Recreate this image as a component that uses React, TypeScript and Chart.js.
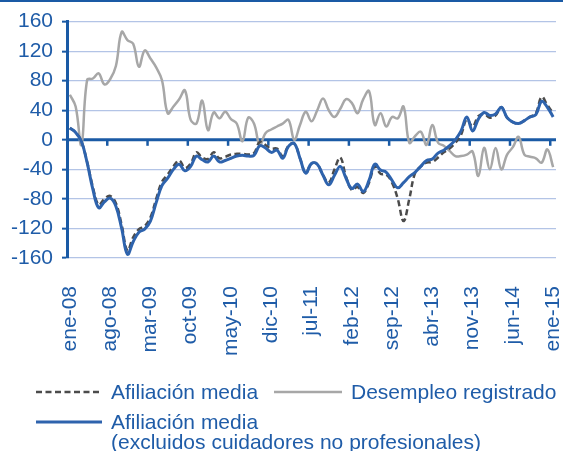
import React, { useEffect, useRef } from "react";
import { Chart, registerables } from "chart.js";

Chart.register(...registerables);

const MONTHS = ["ene", "feb", "mar", "abr", "may", "jun", "jul", "ago", "sep", "oct", "nov", "dic"];
const YEARS = ["08", "09", "10", "11", "12", "13", "14", "15"];
const CATEGORIES: string[] = [];
for (const yy of YEARS) {
  for (const mm of MONTHS) {
    if (CATEGORIES.length < 85) CATEGORIES.push(`${mm}-${yy}`);
  }
}

const AFILIACION = [
  16, 10, -2, -30, -64, -88, -80, -76, -86, -115,
  -150, -132, -121, -117, -105, -80, -57, -47, -36, -28,
  -38, -32, -17, -24, -26, -17, -25, -23, -20, -19,
  -19, -20, -18, -3, -7, -12, -12, -22, -8, -5,
  -25, -45, -32, -33, -48, -58, -40, -24, -50, -68,
  -64, -72, -58, -36, -46, -47, -58, -80, -110, -80,
  -45, -36, -31, -30, -24, -17, -12, -4, 7, 28,
  18, 32, 35, 30, 33, 44, 30, 24, 22, 26,
  31, 36, 58, 47, 36,
];

const DESEMPLEO = [
  61, 45, -7, 81, 83, 90, 75, 82, 100, 146,
  135, 130, 99, 121, 110, 98, 81, 36, 45, 55,
  67, 27, 22, 53, 13, 37, 29, 38, 28, 22,
  -2, 30, 22, -7, 9, 14, 18, 22, 27, 0,
  20, 38, 25, 40, 56, 40, 31, 42, 55, 50,
  36, 55, 66, 20, 36, 18, 31, 29, 45, -4,
  5, 11, -7, 20, -4, -8, -15, -22, -22, -20,
  -16, -49, -11, -40, -11, -40, -20, -10, 4, -20,
  -23, -25, -31, -13, -37,
];

const AFILIACION_EXCL = [
  16, 10, -2, -31, -67, -92, -84, -79, -90, -120,
  -155, -138, -125, -121, -110, -85, -62, -52, -40, -33,
  -42, -36, -22, -27, -30, -22, -30, -28, -25, -22,
  -21, -22, -21, -8, -11, -17, -14, -25, -9, -5,
  -25, -45, -32, -33, -48, -61, -48, -36, -52, -66,
  -60, -70, -55, -33, -41, -44, -55, -65, -58, -50,
  -44, -36, -28, -26, -18, -14, -8, 0, 12, 31,
  12, 28, 37, 33, 35, 44, 30, 24, 22, 26,
  31, 34, 52, 44, 31,
];

const Y_MIN = -160;
const Y_MAX = 160;
const Y_STEP = 40;
const TICK_EVERY = 7;

const LABEL_AFIL = "Afiliación media";
const LABEL_DESEMP = "Desempleo registrado";
const LABEL_EXCL = ["Afiliación media", "(excluidos cuidadores no profesionales)"];

const FONT = "'Liberation Sans', Arial, sans-serif";
const TEXT_COLOR = "#1f5ca8";
const AXIS_COLOR = "#1a5aa5";
const GRID_COLOR = "#b3c4e6";
const BLUE = "#2e63ad";
const GRAY = "#a7a7a7";
const DARK = "#4b4b4b";
const DASH = [6, 3.5];

const topLinePlugin = {
  id: "topLine",
  beforeDraw(chart: any) {
    const { ctx, width } = chart;
    ctx.save();
    ctx.fillStyle = AXIS_COLOR;
    ctx.fillRect(0, 0, width, 2);
    ctx.restore();
  },
};

const zeroAxisPlugin = {
  id: "zeroAxis",
  beforeDatasetsDraw(chart: any) {
    const { ctx, chartArea, scales } = chart;
    const y0 = scales.y.getPixelForValue(0);
    const xs = scales.x;
    const half = (xs.getPixelForValue(1) - xs.getPixelForValue(0)) / 2;
    ctx.save();
    ctx.strokeStyle = AXIS_COLOR;
    ctx.lineWidth = 3;
    ctx.beginPath();
    ctx.moveTo(chartArea.left, y0);
    ctx.lineTo(chartArea.right, y0);
    ctx.stroke();
    ctx.lineWidth = 2.5;
    for (let i = TICK_EVERY; i < CATEGORIES.length; i += TICK_EVERY) {
      const x = xs.getPixelForValue(i) - half;
      ctx.beginPath();
      ctx.moveTo(x, y0);
      ctx.lineTo(x, y0 + 6);
      ctx.stroke();
    }
    ctx.restore();
  },
};

const legendPlugin = {
  id: "customLegend",
  afterDraw(chart: any) {
    const ctx = chart.ctx;
    const ds = chart.data.datasets;
    const items = [
      { d: ds[0], x: 36, y: 392 },
      { d: ds[1], x: 274, y: 392, len: 68 },
      { d: ds[2], x: 36, y: 422 },
    ];
    ctx.save();
    ctx.font = `21px ${FONT}`;
    ctx.fillStyle = TEXT_COLOR;
    ctx.textBaseline = "middle";
    ctx.textAlign = "left";
    for (const it of items) {
      const len = (it as any).len ?? 66;
      ctx.save();
      ctx.strokeStyle = it.d.borderColor;
      ctx.lineWidth = it.d.borderWidth;
      ctx.setLineDash(it.d.borderDash || []);
      ctx.beginPath();
      ctx.moveTo(it.x, it.y);
      ctx.lineTo(it.x + len, it.y);
      ctx.stroke();
      ctx.restore();
      const lines = Array.isArray(it.d.label) ? it.d.label : [it.d.label];
      lines.forEach((t: string, k: number) => {
        ctx.fillText(t, it.x + len + 9, it.y + 1 + k * 20);
      });
    }
    ctx.restore();
  },
};

export default function App() {
  const canvasRef = useRef<HTMLCanvasElement | null>(null);

  useEffect(() => {
    document.body.style.margin = "0";
    const canvas = canvasRef.current;
    if (!canvas) return;
    const chart = new Chart(canvas, {
      type: "line",
      data: {
        labels: CATEGORIES,
        datasets: [
          {
            label: LABEL_AFIL as any,
            data: AFILIACION,
            borderColor: DARK,
            borderWidth: 2.5,
            borderDash: DASH,
            pointRadius: 0,
            tension: 0.4,
            fill: false,
            order: 1,
          },
          {
            label: LABEL_DESEMP as any,
            data: DESEMPLEO,
            borderColor: GRAY,
            borderWidth: 2.5,
            pointRadius: 0,
            tension: 0.4,
            fill: false,
            order: 2,
          },
          {
            label: LABEL_EXCL as any,
            data: AFILIACION_EXCL,
            borderColor: BLUE,
            borderWidth: 3,
            pointRadius: 0,
            tension: 0.4,
            fill: false,
            order: 0,
          },
        ],
      },
      options: {
        responsive: false,
        animation: false,
        layout: { padding: { top: 21, right: 7, left: 0, bottom: 0 } },
        plugins: {
          legend: { display: false },
          tooltip: { enabled: false },
        },
        scales: {
          x: {
            type: "category",
            offset: true,
            grid: { display: false },
            border: { display: false },
            ticks: {
              autoSkip: false,
              minRotation: 90,
              maxRotation: 90,
              padding: 20,
              color: TEXT_COLOR,
              font: { family: FONT, size: 21 },
              callback: (_v: any, i: number) => (i % TICK_EVERY === 0 ? CATEGORIES[i] : ""),
            },
            afterFit: (scale: any) => {
              scale.height = 193;
              scale.paddingLeft = 0;
              scale.paddingRight = 0;
            },
          },
          y: {
            min: Y_MIN,
            max: Y_MAX,
            grid: {
              color: GRID_COLOR,
              lineWidth: 1.3,
              tickColor: AXIS_COLOR,
              tickLength: 5,
              tickWidth: 2,
            },
            border: { display: true, color: AXIS_COLOR, width: 3 },
            ticks: {
              stepSize: Y_STEP,
              padding: 9,
              color: TEXT_COLOR,
              font: { family: FONT, size: 21 },
            },
            afterFit: (scale: any) => {
              scale.width = 67;
            },
          },
        },
      },
      plugins: [topLinePlugin, zeroAxisPlugin, legendPlugin],
    });
    return () => chart.destroy();
  }, []);

  return (
    <div style={{ width: 563, height: 451 }}>
      <canvas ref={canvasRef} width={563} height={451} style={{ display: "block" }} />
    </div>
  );
}
